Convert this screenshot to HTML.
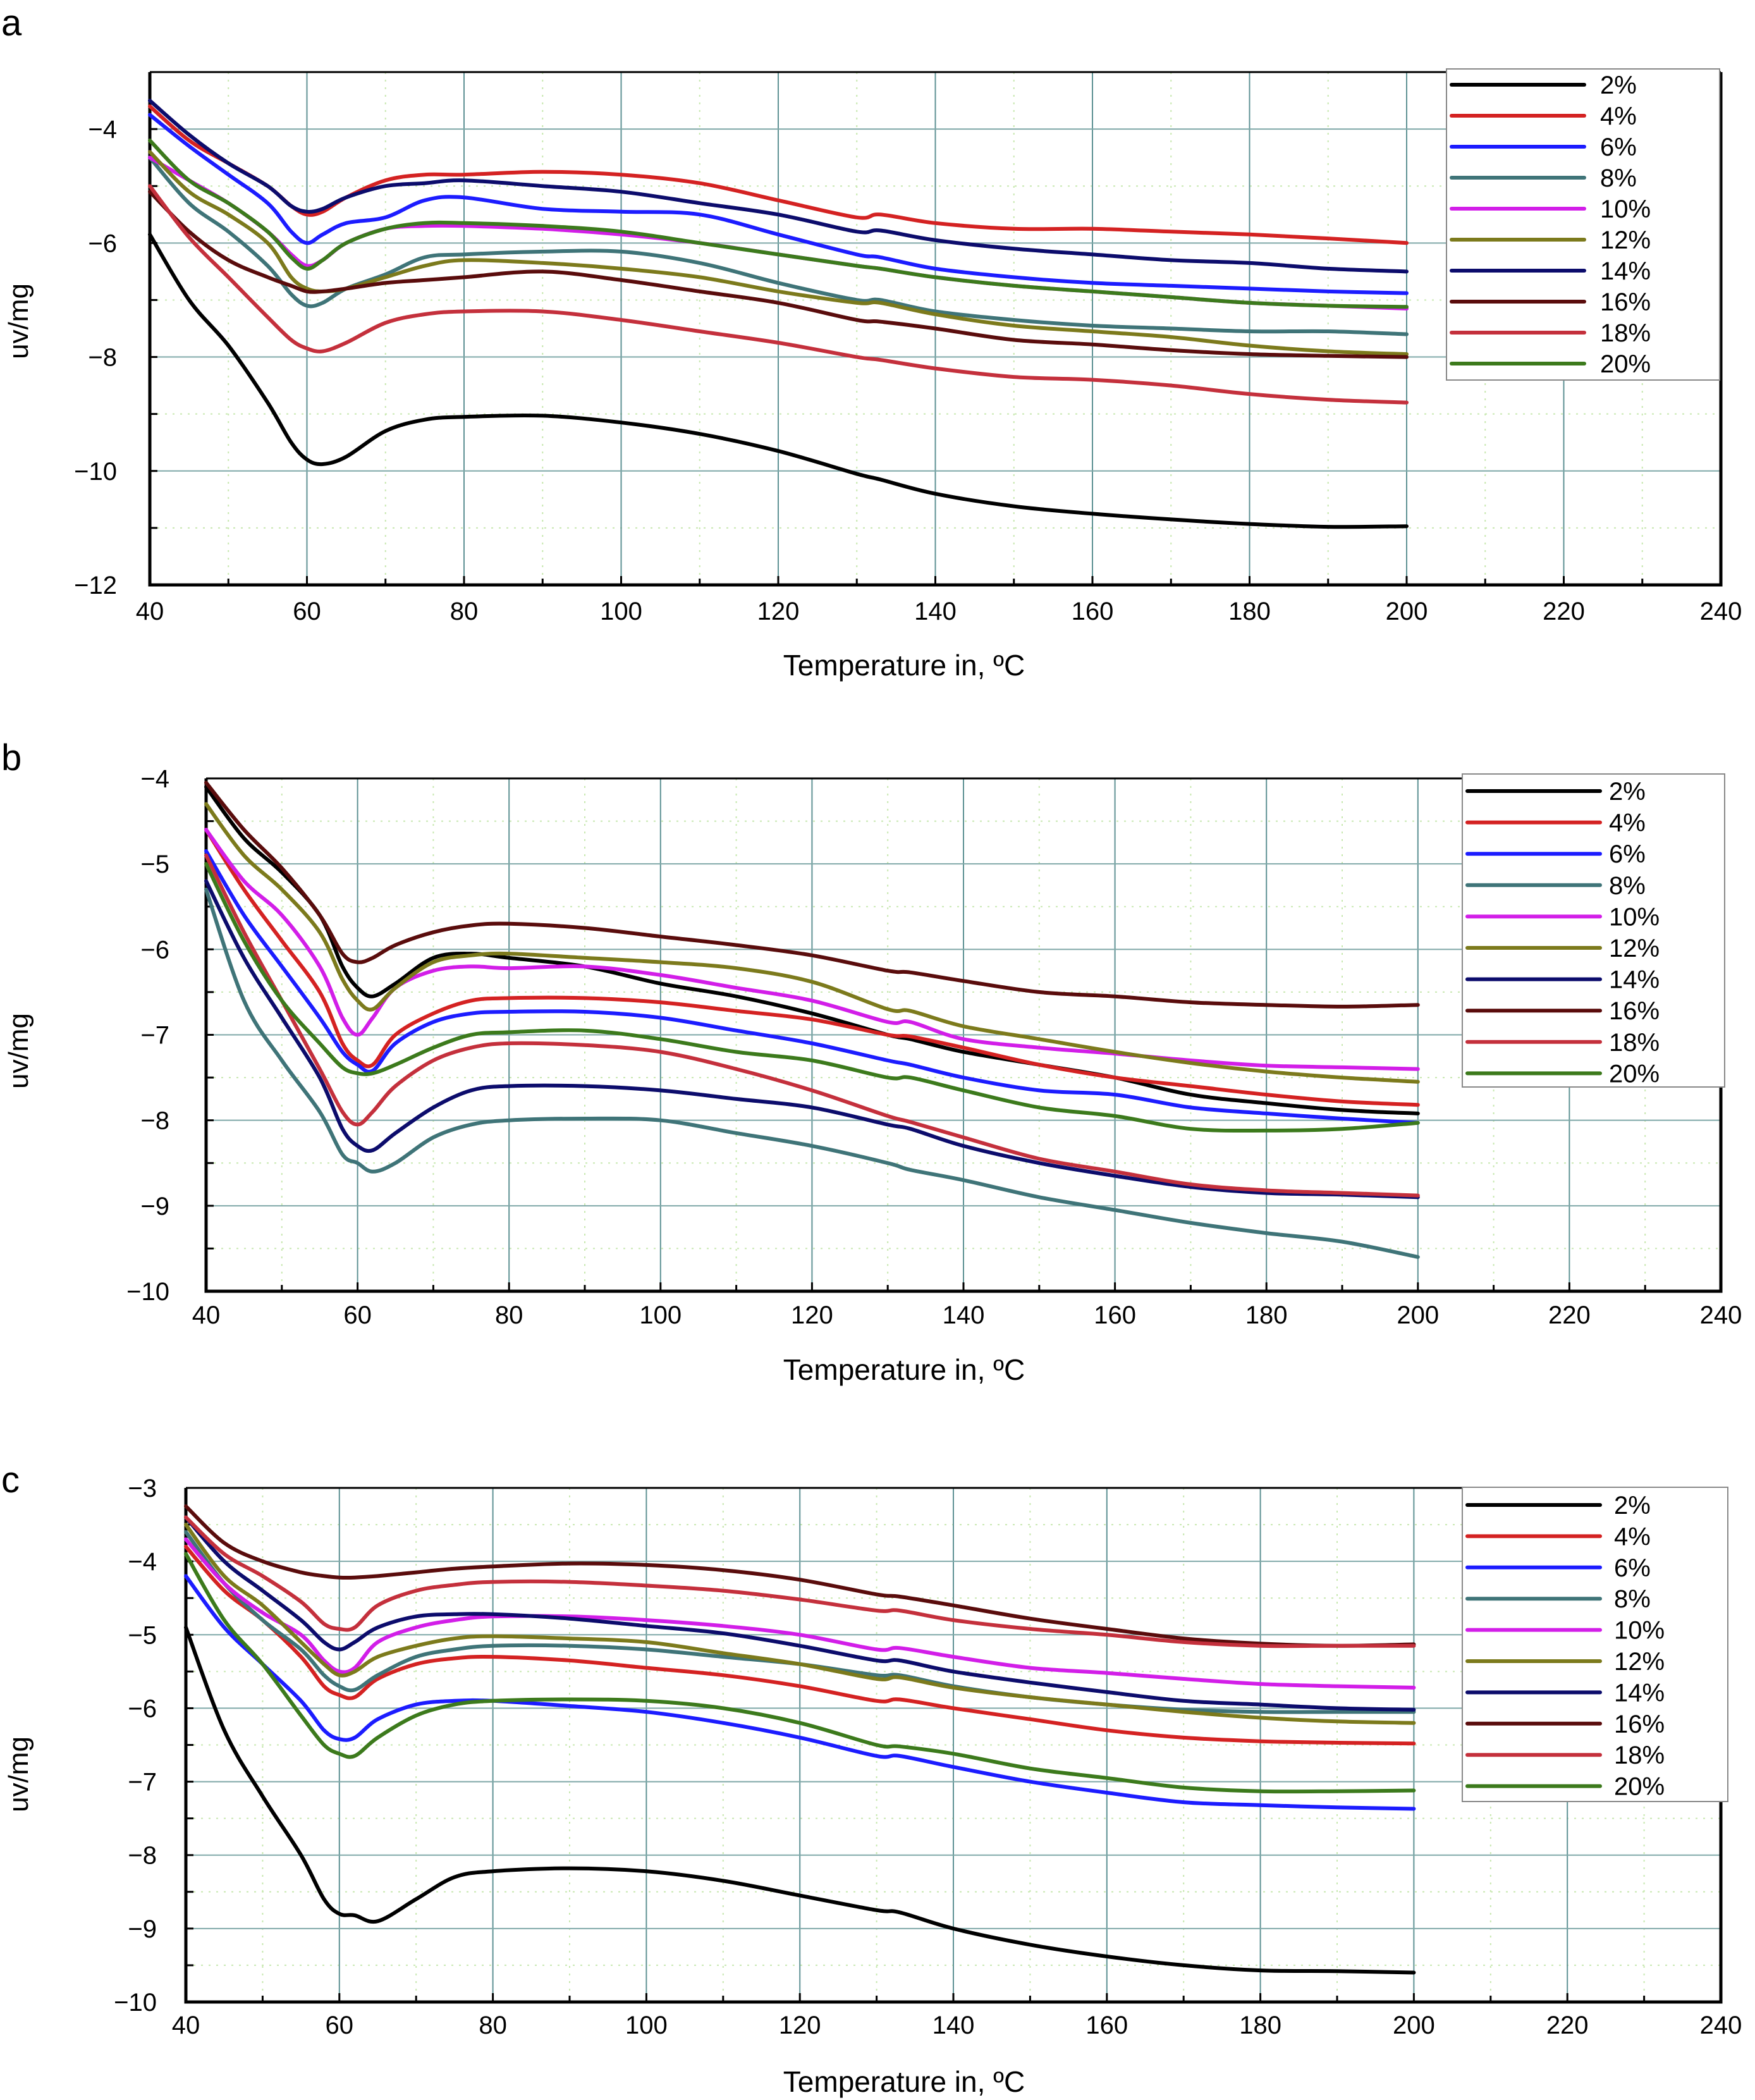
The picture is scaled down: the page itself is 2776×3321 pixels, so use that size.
<!DOCTYPE html>
<html><head><meta charset="utf-8">
<style>
html,body{margin:0;padding:0;background:#fff;}
svg{display:block;font-family:"Liberation Sans",Arial,sans-serif;}
</style></head>
<body>
<svg id="fig" width="2776" height="3321" viewBox="0 0 2776 3321" xmlns="http://www.w3.org/2000/svg">
<rect width="2776" height="3321" fill="#fff"/>
</svg>
<script>
const temps = [40,45,50,55,58,60,62,65,70,75,80,90,100,110,120,130,133,140,150,160,170,180,190,200];
const seriesLabels = ["2%","4%","6%","8%","10%","12%","14%","16%","18%","20%"];
const seriesColors = ["#000000","#d42222","#1c1cff","#3f7478","#d21ee8","#7c7a1c","#0c0c6c","#5a0c0c","#c4303c","#3c7a1c"];
const xTicks = [40,60,80,100,120,140,160,180,200,220,240];

const panelA_2  = [-5.85,-7.0,-7.8,-8.8,-9.5,-9.8,-9.88,-9.75,-9.3,-9.1,-9.05,-9.03,-9.15,-9.35,-9.65,-10.05,-10.15,-10.4,-10.62,-10.75,-10.85,-10.93,-10.98,-10.97];
const panelA_4  = [-3.6,-4.2,-4.6,-5.0,-5.35,-5.5,-5.45,-5.2,-4.9,-4.8,-4.8,-4.75,-4.8,-4.95,-5.25,-5.55,-5.5,-5.65,-5.75,-5.75,-5.8,-5.85,-5.92,-6.0];
const panelA_6  = [-3.75,-4.3,-4.8,-5.3,-5.8,-6.0,-5.85,-5.65,-5.55,-5.25,-5.2,-5.4,-5.45,-5.5,-5.85,-6.2,-6.25,-6.45,-6.6,-6.7,-6.75,-6.8,-6.85,-6.88];
const panelA_8  = [-4.5,-5.3,-5.8,-6.4,-6.9,-7.1,-7.05,-6.8,-6.55,-6.25,-6.2,-6.15,-6.15,-6.35,-6.7,-7.0,-7.0,-7.2,-7.35,-7.45,-7.5,-7.55,-7.55,-7.6];
const panelA_10 = [-4.5,-4.9,-5.3,-5.8,-6.2,-6.4,-6.3,-6.0,-5.75,-5.7,-5.7,-5.75,-5.85,-6.0,-6.2,-6.4,-6.45,-6.6,-6.75,-6.85,-6.95,-7.05,-7.1,-7.15];
const panelA_12 = [-4.4,-5.1,-5.5,-6.0,-6.6,-6.8,-6.85,-6.8,-6.6,-6.4,-6.3,-6.35,-6.45,-6.6,-6.85,-7.05,-7.05,-7.25,-7.45,-7.55,-7.65,-7.8,-7.9,-7.95];
const panelA_14 = [-3.5,-4.1,-4.6,-5.0,-5.35,-5.45,-5.4,-5.2,-5.0,-4.95,-4.9,-5.0,-5.1,-5.3,-5.5,-5.8,-5.78,-5.95,-6.1,-6.2,-6.3,-6.35,-6.45,-6.5];
const panelA_16 = [-5.1,-5.8,-6.3,-6.6,-6.75,-6.85,-6.85,-6.8,-6.7,-6.65,-6.6,-6.5,-6.65,-6.85,-7.05,-7.35,-7.38,-7.5,-7.7,-7.78,-7.88,-7.95,-7.98,-8.0];
const panelA_18 = [-5.0,-5.9,-6.6,-7.3,-7.7,-7.85,-7.9,-7.75,-7.4,-7.25,-7.2,-7.2,-7.35,-7.55,-7.75,-8.0,-8.05,-8.2,-8.35,-8.4,-8.5,-8.65,-8.75,-8.8];
const panelA_20 = [-4.2,-4.9,-5.3,-5.8,-6.25,-6.45,-6.3,-6.0,-5.75,-5.65,-5.65,-5.7,-5.8,-6.0,-6.2,-6.4,-6.45,-6.6,-6.75,-6.85,-6.95,-7.05,-7.1,-7.12];

const panelB_2  = [-4.1,-4.7,-5.1,-5.6,-6.2,-6.45,-6.55,-6.4,-6.1,-6.05,-6.1,-6.2,-6.4,-6.55,-6.75,-7.0,-7.05,-7.2,-7.35,-7.5,-7.7,-7.8,-7.88,-7.92];
const panelB_4  = [-4.6,-5.3,-5.9,-6.5,-7.1,-7.3,-7.35,-7.0,-6.75,-6.6,-6.57,-6.57,-6.62,-6.72,-6.82,-7.0,-7.02,-7.15,-7.35,-7.5,-7.6,-7.7,-7.78,-7.82];
const panelB_6  = [-4.85,-5.6,-6.2,-6.8,-7.2,-7.35,-7.42,-7.1,-6.85,-6.75,-6.73,-6.73,-6.8,-6.95,-7.1,-7.3,-7.35,-7.5,-7.65,-7.7,-7.85,-7.92,-7.98,-8.03];
const panelB_8  = [-5.3,-6.6,-7.3,-7.9,-8.4,-8.5,-8.6,-8.5,-8.2,-8.05,-8.0,-7.98,-8.0,-8.15,-8.3,-8.5,-8.58,-8.7,-8.9,-9.05,-9.2,-9.32,-9.42,-9.6];
const panelB_10 = [-4.6,-5.2,-5.6,-6.2,-6.8,-7.0,-6.8,-6.45,-6.25,-6.2,-6.22,-6.2,-6.3,-6.45,-6.6,-6.85,-6.85,-7.05,-7.15,-7.22,-7.3,-7.36,-7.38,-7.4];
const panelB_12 = [-4.3,-4.9,-5.3,-5.8,-6.35,-6.6,-6.7,-6.45,-6.15,-6.07,-6.05,-6.1,-6.15,-6.22,-6.38,-6.7,-6.72,-6.9,-7.05,-7.2,-7.33,-7.43,-7.5,-7.55];
const panelB_14 = [-5.2,-6.1,-6.8,-7.5,-8.1,-8.3,-8.35,-8.15,-7.85,-7.65,-7.6,-7.6,-7.65,-7.75,-7.85,-8.05,-8.1,-8.3,-8.5,-8.65,-8.78,-8.85,-8.87,-8.9];
const panelB_16 = [-4.05,-4.6,-5.05,-5.6,-6.05,-6.15,-6.1,-5.95,-5.8,-5.72,-5.7,-5.75,-5.85,-5.95,-6.07,-6.25,-6.27,-6.37,-6.5,-6.55,-6.62,-6.65,-6.67,-6.65];
const panelB_18 = [-4.9,-5.8,-6.6,-7.4,-7.9,-8.05,-7.9,-7.6,-7.3,-7.15,-7.1,-7.12,-7.2,-7.4,-7.65,-7.95,-8.02,-8.2,-8.45,-8.6,-8.75,-8.82,-8.85,-8.88];
const panelB_20 = [-5.0,-5.9,-6.6,-7.1,-7.38,-7.45,-7.45,-7.35,-7.15,-7.0,-6.97,-6.95,-7.05,-7.2,-7.3,-7.5,-7.5,-7.65,-7.85,-7.95,-8.1,-8.12,-8.1,-8.03];

const panelC_2  = [-4.9,-6.3,-7.2,-8.0,-8.6,-8.8,-8.82,-8.9,-8.6,-8.3,-8.22,-8.18,-8.22,-8.35,-8.55,-8.75,-8.78,-9.0,-9.22,-9.38,-9.5,-9.57,-9.58,-9.6];
const panelC_4  = [-3.8,-4.4,-4.8,-5.3,-5.7,-5.82,-5.85,-5.6,-5.4,-5.32,-5.3,-5.35,-5.45,-5.55,-5.7,-5.9,-5.88,-6.0,-6.15,-6.3,-6.4,-6.45,-6.47,-6.48];
const panelC_6  = [-4.2,-4.9,-5.4,-5.9,-6.3,-6.42,-6.4,-6.15,-5.95,-5.9,-5.9,-5.97,-6.05,-6.2,-6.4,-6.65,-6.65,-6.8,-7.0,-7.15,-7.28,-7.32,-7.35,-7.37];
const panelC_8  = [-3.6,-4.3,-4.8,-5.2,-5.55,-5.7,-5.75,-5.55,-5.3,-5.2,-5.15,-5.15,-5.2,-5.3,-5.4,-5.55,-5.55,-5.7,-5.85,-5.95,-6.02,-6.05,-6.05,-6.05];
const panelC_10 = [-3.7,-4.3,-4.7,-5.0,-5.35,-5.5,-5.45,-5.1,-4.9,-4.8,-4.75,-4.75,-4.8,-4.88,-5.0,-5.2,-5.18,-5.3,-5.45,-5.52,-5.6,-5.67,-5.7,-5.72];
const panelC_12 = [-3.5,-4.2,-4.6,-5.1,-5.4,-5.55,-5.5,-5.3,-5.15,-5.05,-5.02,-5.05,-5.1,-5.25,-5.4,-5.6,-5.58,-5.72,-5.85,-5.95,-6.05,-6.13,-6.18,-6.2];
const panelC_14 = [-3.4,-4.0,-4.4,-4.8,-5.1,-5.2,-5.1,-4.9,-4.75,-4.72,-4.72,-4.78,-4.88,-4.98,-5.15,-5.35,-5.35,-5.5,-5.65,-5.78,-5.9,-5.95,-6.0,-6.02];
const panelC_16 = [-3.25,-3.75,-4.0,-4.15,-4.2,-4.22,-4.22,-4.2,-4.15,-4.1,-4.07,-4.03,-4.05,-4.12,-4.25,-4.45,-4.48,-4.6,-4.78,-4.92,-5.05,-5.12,-5.15,-5.13];
const panelC_18 = [-3.4,-3.9,-4.2,-4.55,-4.85,-4.92,-4.9,-4.6,-4.4,-4.32,-4.28,-4.28,-4.33,-4.4,-4.52,-4.67,-4.67,-4.8,-4.92,-5.0,-5.1,-5.15,-5.15,-5.15];
const panelC_20 = [-3.9,-4.8,-5.4,-6.1,-6.5,-6.62,-6.65,-6.4,-6.1,-5.95,-5.9,-5.88,-5.9,-6.0,-6.2,-6.5,-6.52,-6.62,-6.82,-6.95,-7.08,-7.13,-7.13,-7.12];

const panelASeries = [panelA_2,panelA_4,panelA_6,panelA_8,panelA_10,panelA_12,panelA_14,panelA_16,panelA_18,panelA_20];
const panelBSeries = [panelB_2,panelB_4,panelB_6,panelB_8,panelB_10,panelB_12,panelB_14,panelB_16,panelB_18,panelB_20];
const panelCSeries = [panelC_2,panelC_4,panelC_6,panelC_8,panelC_10,panelC_12,panelC_14,panelC_16,panelC_18,panelC_20];
const panelAYTicks = [-4,-6,-8,-10,-12];
const panelBYTicks = [-4,-5,-6,-7,-8,-9,-10];
const panelCYTicks = [-3,-4,-5,-6,-7,-8,-9,-10];

const NS = "http://www.w3.org/2000/svg";
const svg = document.getElementById("fig");
function mk(tag, attrs, parent){
  const e = document.createElementNS(NS, tag);
  for (const k in attrs) e.setAttribute(k, attrs[k]);
  (parent||svg).appendChild(e);
  return e;
}
function smoothPath(pts){
  let d = "M"+pts[0][0].toFixed(1)+","+pts[0][1].toFixed(1);
  for (let i=0;i<pts.length-1;i++){
    const p0=pts[Math.max(0,i-1)],p1=pts[i],p2=pts[i+1],p3=pts[Math.min(pts.length-1,i+2)];
    const c1x=p1[0]+(p2[0]-p0[0])/6,c1y=p1[1]+(p2[1]-p0[1])/6;
    const c2x=p2[0]-(p3[0]-p1[0])/6,c2y=p2[1]-(p3[1]-p1[1])/6;
    d+=" C"+c1x.toFixed(1)+","+c1y.toFixed(1)+" "+c2x.toFixed(1)+","+c2y.toFixed(1)+" "+p2[0].toFixed(1)+","+p2[1].toFixed(1);
  }
  return d;
}

function drawPanel(cfg){
  const g = mk("g",{});
  
  
  const X = v => cfg.x0 + (v-40)/(240-40)*(cfg.x1-cfg.x0);
  const Y = v => cfg.yTop + (cfg.yMax - v)/(cfg.yMax-cfg.yMin)*(cfg.yBot-cfg.yTop);
  for (let t=50;t<240;t+=20){
    const l = mk("line",{x1:X(t),x2:X(t),y1:cfg.yTop,y2:cfg.yBot,stroke:"#c8e8b0","stroke-width":2,"stroke-dasharray":"3,9"},g);
    
    
  }
  for (let v=cfg.yMax-cfg.minorStep; v>cfg.yMin; v-=cfg.minorStep){
    if (Math.abs(v/cfg.majorStep - Math.round(v/cfg.majorStep))<1e-6) continue;
    const l = mk("line",{x1:cfg.x0,x2:cfg.x1,y1:Y(v),y2:Y(v),stroke:"#c8e8b0","stroke-width":2,"stroke-dasharray":"3,9"},g);
    
    
  }
  for (const t of xTicks){
    if (t===40||t===240) continue;
    const l = mk("line",{x1:X(t),x2:X(t),y1:cfg.yTop,y2:cfg.yBot,stroke:"#5f9294","stroke-width":2},g);
    
    
  }
  for (const v of cfg.yTicks){
    if (v===cfg.yMin||v===cfg.yMax) continue;
    const l = mk("line",{x1:cfg.x0,x2:cfg.x1,y1:Y(v),y2:Y(v),stroke:"#7fa8a8","stroke-width":2},g);
    
    
  }
  const fr = mk("path",{d:`M${cfg.x0},${cfg.yTop} L${cfg.x0},${cfg.yBot} L${cfg.x1},${cfg.yBot} L${cfg.x1},${cfg.yTop}`,fill:"none",stroke:"#000","stroke-width":5},g);
  
  
  const top = mk("line",{x1:cfg.x0,x2:cfg.x1,y1:cfg.yTop,y2:cfg.yTop,stroke:"#000","stroke-width":3},g);
  
  
  for (let t=40;t<=240;t+=10){
    const len = (t%20===0)?14:10;
    const tk = mk("line",{x1:X(t),x2:X(t),y1:cfg.yBot,y2:cfg.yBot-len,stroke:"#000","stroke-width":3},g);
    
    
  }
  for (const t of xTicks){
    const tx = mk("text",{x:X(t),y:cfg.xLabelY,"font-size":40,"text-anchor":"middle",fill:"#000"},g);
    tx.textContent = t;
    
    
  }
  for (let v=cfg.yMax; v>=cfg.yMin-1e-6; v-=cfg.minorStep){
    const tk = mk("line",{x1:cfg.x0,x2:cfg.x0+12,y1:Y(v),y2:Y(v),stroke:"#000","stroke-width":3},g);
    
    
  }
  for (const v of cfg.yTicks){
    const tx = mk("text",{x:cfg.x0-cfg.yLabelGap,y:Y(v)+14,"font-size":40,"text-anchor":"end",fill:"#000"},g);
    tx.textContent = "\u2212"+Math.abs(v);
    
    
  }
  cfg.series.forEach((vals,i)=>{
    const pts = temps.map((t,j)=>[X(t),Y(vals[j])]);
    const p = mk("path",{d:smoothPath(pts),fill:"none",stroke:seriesColors[i],"stroke-width":6,"stroke-linejoin":"round","stroke-linecap":"round"},g);
    
    
  });
  const lg = mk("g",{},g);
  
  
  const lb = mk("rect",{x:cfg.lg.x,y:cfg.lg.y,width:cfg.lg.w,height:cfg.lg.h,fill:"#fff",stroke:"#888","stroke-width":2},lg);
  
  
  seriesLabels.forEach((lab,i)=>{
    const yy = cfg.lg.y0 + i*cfg.lg.dy;
    const ln = mk("line",{x1:cfg.lg.x+8,x2:cfg.lg.x+218,y1:yy,y2:yy,stroke:seriesColors[i],"stroke-width":6,"stroke-linecap":"round"},lg);
    
    
    const tx = mk("text",{x:cfg.lg.tx,y:yy+14,"font-size":40,fill:"#000"},lg);
    tx.textContent = lab;
    
    
  });
  const xt = mk("text",{x:1430,y:cfg.xTitleY,"font-size":46,"text-anchor":"middle",fill:"#000"},g);
  xt.textContent = "Temperature in, \u00BAC";
  
  
  const yt = mk("text",{x:0,y:0,"font-size":44,"text-anchor":"middle",fill:"#000",transform:`translate(44,${cfg.yTitleY}) rotate(-90)`},g);
  yt.textContent = "uv/mg";
  
  
  const pl = mk("text",{x:2,y:cfg.letterY,"font-size":58,fill:"#000"},g);
  pl.textContent = cfg.id;
  
  
}

drawPanel({id:"a",x0:237,x1:2722,yTop:114,yBot:925,yMax:-3,yMin:-12,majorStep:2,minorStep:1,yTicks:panelAYTicks,yLabelGap:52,
  series:panelASeries,xLabelY:980,xTitleY:1068,yTitleY:508,letterY:56,
  lg:{x:2288,y:109,w:432,h:492,y0:134,dy:49,tx:2531}});
drawPanel({id:"b",x0:326,x1:2722,yTop:1231,yBot:2042,yMax:-4,yMin:-10,majorStep:1,minorStep:0.5,yTicks:panelBYTicks,yLabelGap:58,
  series:panelBSeries,xLabelY:2093,xTitleY:2182,yTitleY:1662,letterY:1218,
  lg:{x:2313,y:1224,w:415,h:495,y0:1251,dy:49.6,tx:2545}});
drawPanel({id:"c",x0:294,x1:2722,yTop:2353,yBot:3166,yMax:-3,yMin:-10,majorStep:1,minorStep:0.5,yTicks:panelCYTicks,yLabelGap:46,
  series:panelCSeries,xLabelY:3216,xTitleY:3308,yTitleY:2806,letterY:2360,
  lg:{x:2313,y:2352,w:420,h:497,y0:2380,dy:49.4,tx:2553}});
</script>
</body></html>
